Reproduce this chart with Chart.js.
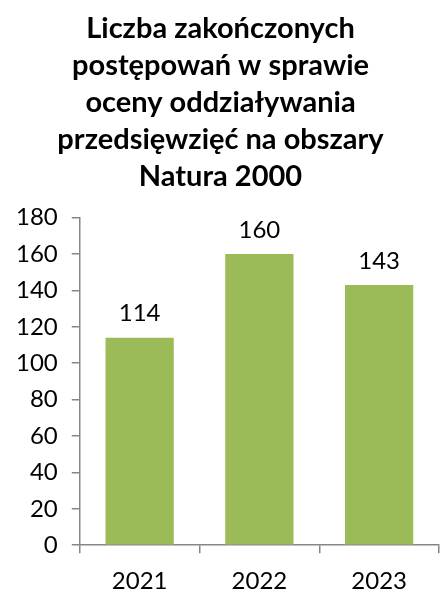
<!DOCTYPE html>
<html>
<head>
<meta charset="utf-8">
<script src="https://cdn.jsdelivr.net/npm/chart.js@4"></script>
<style>
  html, body { margin: 0; padding: 0; background: #fff; }
  #wrap { width: 440px; height: 592px; }
</style>
</head>
<body>
<div id="wrap"><canvas id="chart" width="440" height="592"></canvas></div>
<script>
// chart data
const years = ['2021', '2022', '2023'];
const counts = [114, 160, 143];
const titleLines = ['Liczba zakończonych', 'postępowań w sprawie', 'oceny oddziaływania', 'przedsięwzięć na obszary', 'Natura 2000'];

const axisGray = '#868686';
const fontFamily = 'Lato, "Open Sans", sans-serif';

// value labels above the bars
const barLabels = {
    id: 'barLabels',
    afterDatasetsDraw(chart) {
        const ctx = chart.ctx;
        const meta = chart.getDatasetMeta(0);
        ctx.save();
        ctx.font = '24px ' + fontFamily;
        ctx.fillStyle = '#000';
        ctx.textAlign = 'center';
        ctx.textBaseline = 'bottom';
        meta.data.forEach((bar, i) => {
            ctx.fillText(counts[i], bar.x, bar.y - 12);
        });
        ctx.restore();
    }
};

new Chart(document.querySelector('#chart'), {
    type: 'bar',
    data: {
        labels: years,
        datasets: [{
            data: counts,
            backgroundColor: '#9BBB59',
            categoryPercentage: 0.57,
            barPercentage: 1
        }]
    },
    options: {
        responsive: false,
        animation: false,
        layout: { padding: { top: 10, right: 1, left: 2, bottom: -18 } },
        plugins: {
            legend: { display: false },
            tooltip: { enabled: false },
            title: {
                display: true,
                text: titleLines,
                color: '#000',
                font: { family: fontFamily, size: 29, weight: 'bold', lineHeight: 1.28 },
                padding: { top: 0, bottom: 22 }
            }
        },
        scales: {
            x: {
                grid: { drawOnChartArea: false, drawTicks: true, tickLength: 8, color: axisGray, lineWidth: 1.5 },
                border: { display: true, color: axisGray, width: 1.5 },
                ticks: { color: '#000', font: { family: fontFamily, size: 24 }, padding: 14 }
            },
            y: {
                min: 0,
                max: 180,
                grid: { drawOnChartArea: false, drawTicks: true, tickLength: 8, color: axisGray, lineWidth: 1.5 },
                border: { display: true, color: axisGray, width: 1.5 },
                ticks: { stepSize: 20, color: '#000', font: { family: fontFamily, size: 24 }, padding: 14 }
            }
        }
    },
    plugins: [barLabels]
});
</script>
</body>
</html>
